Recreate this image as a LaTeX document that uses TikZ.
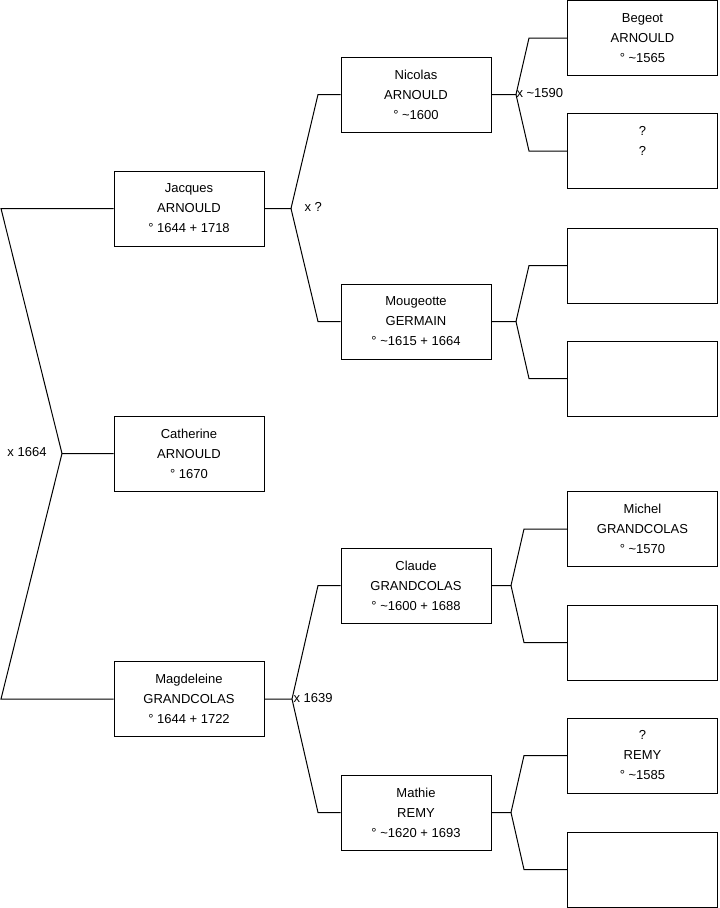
\documentclass[tikz,border=0pt]{standalone}
\usepackage{fontspec}
\setmainfont{Liberation Sans}
\begin{document}
\begin{tikzpicture}[x=0.75pt, y=-0.75pt, line width=0.75pt,
        person/.style={draw, rectangle, align=center, minimum width=112.5pt, minimum height=56.25pt, inner sep=0pt, font=\fontsize{9.75}{15}\selectfont},
        union/.style={anchor=west, inner sep=0pt, font=\fontsize{9.75}{15}\selectfont}]
        \useasboundingbox (0,0) rectangle (719,908);
        % Nodes
        \node (catherine) [person] at (189,453.5) {Catherine\\ARNOULD\\° 1670};
        \node (jacques) [person] at (189,208.5) {Jacques\\ARNOULD\\° 1644 + 1718};
        \node (magdeleine) [person] at (189,699) {Magdeleine\\GRANDCOLAS\\° 1644 + 1722};
        \node (nicolas) [person] at (416,94.5) {Nicolas\\ARNOULD\\° \textasciitilde1600};
        \node (mougeotte) [person] at (416,321.5) {Mougeotte\\GERMAIN\\° \textasciitilde1615 + 1664};
        \node (claude) [person] at (416,585.5) {Claude\\GRANDCOLAS\\° \textasciitilde1600 + 1688};
        \node (mathie) [person] at (416,812.5) {Mathie\\REMY\\° \textasciitilde1620 + 1693};
        \node (begeot) [person] at (642.5,38) {Begeot\\ARNOULD\\° \textasciitilde1565};
        \node (unknownA) [person] at (642.5,151) {?\\?\\\mbox{}};
        \node (emptyA) [person] at (642.5,265.5) {};
        \node (emptyB) [person] at (642.5,378.5) {};
        \node (michel) [person] at (642.5,529) {Michel\\GRANDCOLAS\\° \textasciitilde1570};
        \node (emptyC) [person] at (642.5,642.5) {};
        \node (remy) [person] at (642.5,755.5) {?\\REMY\\° \textasciitilde1585};
        \node (emptyD) [person] at (642.5,869.5) {};

        % Fork points
        \coordinate (f0) at (62,453.5);
        \coordinate (f0a) at (1,208.5);
        \coordinate (f0b) at (1,699);
        \coordinate (f1) at (291,208.5);
        \coordinate (f1a) at (318,94.5);
        \coordinate (f1b) at (318,321.5);
        \coordinate (f2) at (292,699);
        \coordinate (f2a) at (318,585.5);
        \coordinate (f2b) at (318,812.5);
        \coordinate (f3) at (516,94.5);
        \coordinate (f3a) at (529,38);
        \coordinate (f3b) at (529,151);
        \coordinate (f4) at (516,321.5);
        \coordinate (f4a) at (529,265.5);
        \coordinate (f4b) at (529,378.5);
        \coordinate (f5) at (511,585.5);
        \coordinate (f5a) at (524,529);
        \coordinate (f5b) at (524,642.5);
        \coordinate (f6) at (511,812.5);
        \coordinate (f6a) at (524,755.5);
        \coordinate (f6b) at (524,869.5);

        % Connectors
        \draw (catherine.west) -- (f0) -- (f0a) -- (jacques.west);
        \draw (f0) -- (f0b) -- (magdeleine.west);
        \draw (jacques.east) -- (f1) -- (f1a) -- (nicolas.west);
        \draw (f1) -- (f1b) -- (mougeotte.west);
        \draw (magdeleine.east) -- (f2) -- (f2a) -- (claude.west);
        \draw (f2) -- (f2b) -- (mathie.west);
        \draw (nicolas.east) -- (f3) -- (f3a) -- (begeot.west);
        \draw (f3) -- (f3b) -- (unknownA.west);
        \draw (mougeotte.east) -- (f4) -- (f4a) -- (emptyA.west);
        \draw (f4) -- (f4b) -- (emptyB.west);
        \draw (claude.east) -- (f5) -- (f5a) -- (michel.west);
        \draw (f5) -- (f5b) -- (emptyC.west);
        \draw (mathie.east) -- (f6) -- (f6a) -- (remy.west);
        \draw (f6) -- (f6b) -- (emptyD.west);

        % Marriage labels
        \node (m0) [union] at (7,452) {x 1664};
        \node (m1) [union] at (304,207) {x ?};
        \node (m2) [union] at (293,698) {x 1639};
        \node (m3) [union] at (516,93) {x \textasciitilde1590};
    \end{tikzpicture}
\end{document}
